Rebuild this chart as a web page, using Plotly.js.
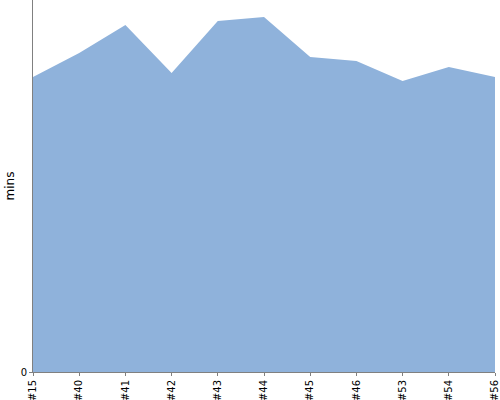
<!DOCTYPE html>
<html>
<head>
<meta charset="utf-8">
<script src="https://cdn.plot.ly/plotly-3.0.1.min.js"></script>
<style>html,body{margin:0;padding:0;background:#fff}#chart{width:500px;height:400px}</style>
</head>
<body>
<div id="chart"></div>
<script>
var categories = ["#15", "#40", "#41", "#42", "#43", "#44", "#45", "#46", "#53", "#54", "#56"];
var minutes = [29.5, 31.9, 34.7, 29.9, 35.1, 35.5, 31.5, 31.1, 29.1, 30.5, 29.5];
var yTicks = [0];

var trace = {
  x: categories,
  y: minutes,
  type: 'scatter',
  mode: 'lines',
  fill: 'tozeroy',
  fillcolor: 'rgb(143,178,219)',
  line: {width: 0, color: 'rgb(143,178,219)'},
  hoverinfo: 'none'
};

var layout = {
  width: 500,
  height: 400,
  margin: {l: 33, r: 5, t: 0, b: 28, pad: 0},
  paper_bgcolor: '#fff',
  plot_bgcolor: '#fff',
  showlegend: false,
  font: {family: 'DejaVu Sans', size: 10, color: '#000'},
  xaxis: {
    type: 'category',
    range: [0, categories.length - 1],
    tickangle: -90,
    showgrid: false,
    zeroline: false,
    showline: true,
    linecolor: '#808080',
    linewidth: 1,
    ticks: 'outside',
    ticklen: 3,
    tickcolor: '#808080',
    tickfont: {family: 'DejaVu Sans', size: 10, color: '#000'}
  },
  yaxis: {
    range: [0, 37.2],
    tickvals: yTicks,
    ticktext: ['0'],
    showgrid: false,
    zeroline: false,
    showline: true,
    linecolor: '#808080',
    linewidth: 1,
    ticks: 'outside',
    ticklen: 3,
    tickcolor: '#808080',
    automargin: true,
    tickfont: {family: 'DejaVu Sans', size: 10, color: '#000'},
    title: {text: 'mins', font: {family: 'DejaVu Sans', size: 12, color: '#000'}, standoff: 3}
  }
};

Plotly.newPlot('chart', [trace], layout, {staticPlot: true, displayModeBar: false});
</script>
</body>
</html>
